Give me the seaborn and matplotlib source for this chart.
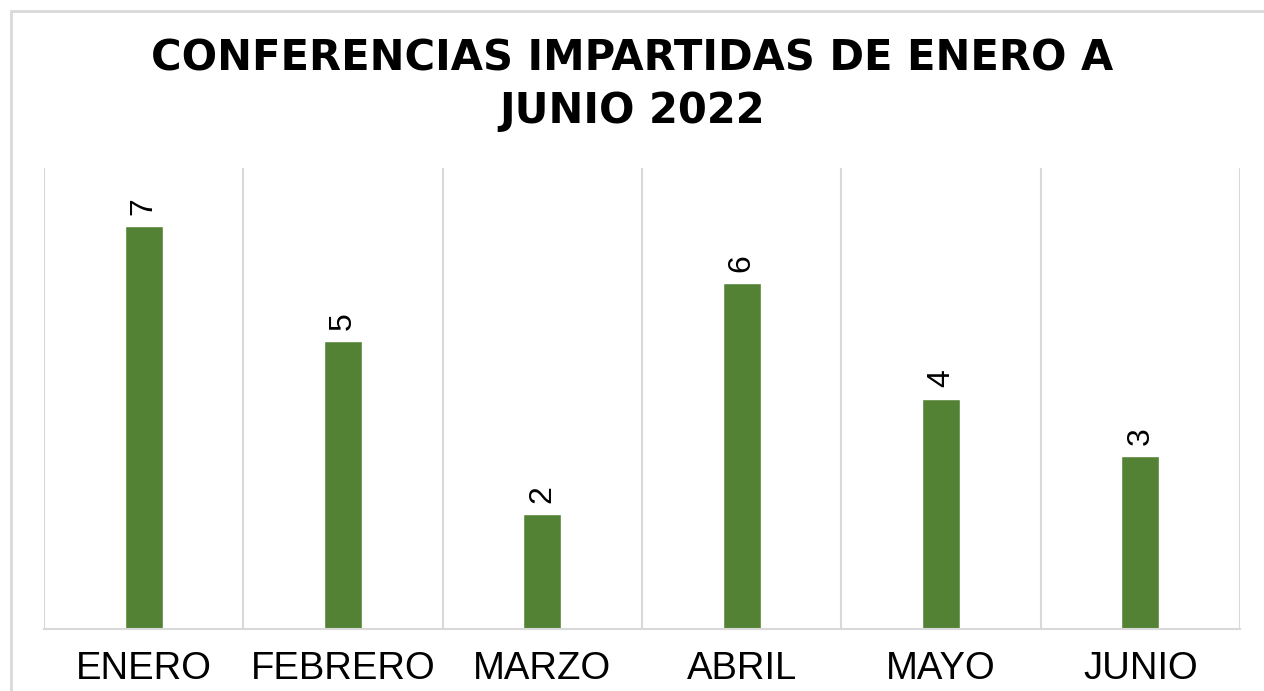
import matplotlib
matplotlib.use("Agg")
import matplotlib.pyplot as plt
from matplotlib.patches import Rectangle
import seaborn as sns
import pandas as pd

# Conference counts per month
meses = ["ENERO", "FEBRERO", "MARZO", "ABRIL", "MAYO", "JUNIO"]
conferencias = [7, 5, 2, 6, 4, 3]
titulo = "CONFERENCIAS IMPARTIDAS DE ENERO A\nJUNIO 2022"

df = pd.DataFrame({"mes": meses, "conferencias": conferencias})

sns.set_style("white")
plt.rcParams["font.family"] = ["Liberation Sans", "DejaVu Sans"]

verde = "#548235"
gris = "#d9d9d9"

fig = plt.figure(figsize=(12.64, 6.91), dpi=100)
ax = fig.add_axes([44 / 1264, 1 - 629 / 691, (1240 - 44) / 1264, (629 - 168) / 691])

sns.barplot(data=df, x="mes", y="conferencias", color=verde, saturation=1,
            width=0.19, ax=ax, errorbar=None)

ax.set_xlim(-0.5, len(meses) - 0.5)
ax.set_ylim(0, 8)

# Vertical separators between categories
ax.set_xticks([i - 0.5 for i in range(len(meses) + 1)], minor=True)
ax.grid(axis="x", which="minor", color=gris, linewidth=1.5)
ax.grid(axis="x", which="major", visible=False)
ax.grid(axis="y", visible=False)
ax.tick_params(axis="x", which="both", length=0, labelsize=27.5, pad=16,
               labelcolor="black")
ax.set_yticks([])
ax.set_xlabel("")
ax.set_ylabel("")

for side in ["top", "left", "right"]:
    ax.spines[side].set_visible(False)
ax.spines["bottom"].set_color(gris)
ax.spines["bottom"].set_linewidth(1.5)

# Value labels above each bar, rotated
for i, v in enumerate(conferencias):
    ax.annotate(str(v), xy=(i, v), xytext=(0, 8), textcoords="offset points",
                rotation=90, ha="center", va="bottom", fontsize=23, color="black")

fig.text(0.5, 1 - 85 / 691, titulo, ha="center", va="center",
         fontsize=30, fontweight="bold", family=["DejaVu Sans"],
         linespacing=1.32, color="black")

# Chart-area frame
fig.patches.append(Rectangle((11 / 1264, -0.1), 1.2, 1.1 - 11 / 691,
                             transform=fig.transFigure, fill=False,
                             edgecolor=gris, linewidth=2))

fig.savefig("out.png", dpi=100, facecolor="white")
